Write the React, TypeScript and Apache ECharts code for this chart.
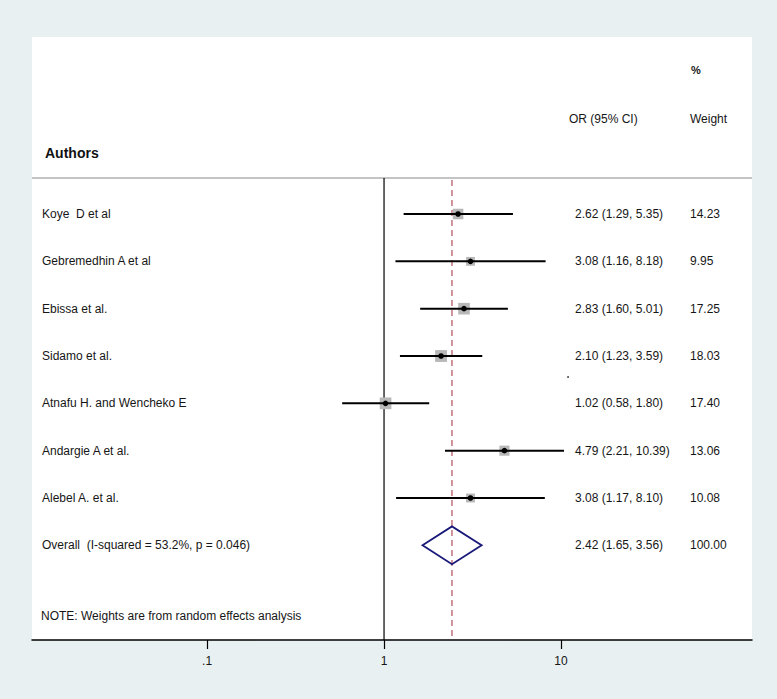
import React, { useEffect, useRef } from "react";
import * as echarts from "echarts";

const studyNames = [
  "Koye  D et al",
  "Gebremedhin A et al",
  "Ebissa et al.",
  "Sidamo et al.",
  "Atnafu H. and Wencheko E",
  "Andargie A et al.",
  "Alebel A. et al.",
];
const orValues = [2.62, 3.08, 2.83, 2.1, 1.02, 4.79, 3.08];
const ciLower = [1.29, 1.16, 1.6, 1.23, 0.58, 2.21, 1.17];
const ciUpper = [5.35, 8.18, 5.01, 3.59, 1.8, 10.39, 8.1];
const weights = [14.23, 9.95, 17.25, 18.03, 17.4, 13.06, 10.08];

const overallLabel = "Overall  (I-squared = 53.2%, p = 0.046)";
const overallOR = 2.42;
const overallLower = 1.65;
const overallUpper = 3.56;
const overallWeight = 100.0;

const xTicks = [0.1, 1, 10];
const xTickLabels = [".1", "1", "10"];

const headerAuthors = "Authors";
const headerOR = "OR (95% CI)";
const headerWeight = "Weight";
const headerPct = "%";
const noteText = "NOTE: Weights are from random effects analysis";

const fmt = (v: number) => v.toFixed(2);

export default function App() {
  const ref = useRef<HTMLDivElement>(null);
  useEffect(() => {
    if (!ref.current) return;
    const chart = echarts.init(ref.current, null, { renderer: "svg" });
    const lg = Math.log10;
    const textFont = "Liberation Sans, Arial, sans-serif";
    const textColor = "#161616";

    const rowNames = [...studyNames, overallLabel];
    const rowOR = [
      ...orValues.map((v, i) => `${fmt(v)} (${fmt(ciLower[i])}, ${fmt(ciUpper[i])})`),
      `${fmt(overallOR)} (${fmt(overallLower)}, ${fmt(overallUpper)})`,
    ];
    const rowW = [...weights.map(fmt), fmt(overallWeight)];

    const headerY = -0.76;
    const yMin = -3.74;
    const yMax = 9.0;

    const option: any = {
      animation: false,
      backgroundColor: "#e8f0f2",
      grid: {
        left: 32,
        right: 25,
        top: 37,
        bottom: 59,
        show: true,
        backgroundColor: "#ffffff",
        borderWidth: 0,
      },
      xAxis: {
        type: "value",
        min: -1.989,
        max: 2.079,
        position: "bottom",
        axisLine: { show: true, onZero: false, lineStyle: { color: "#000", width: 1.5 } },
        axisTick: {
          show: true,
          length: 9,
          customValues: xTicks.map((t) => lg(t)),
          lineStyle: { color: "#000", width: 1.2 },
        },
        axisLabel: {
          show: true,
          customValues: xTicks.map((t) => lg(t)),
          margin: 15,
          fontSize: 12,
          fontFamily: textFont,
          color: textColor,
          formatter: (v: number) => {
            let best = 0;
            xTicks.forEach((t, i) => {
              if (Math.abs(lg(t) - v) < Math.abs(lg(xTicks[best]) - v)) best = i;
            });
            return xTickLabels[best];
          },
        },
        splitLine: { show: false },
      },
      yAxis: {
        type: "value",
        inverse: true,
        min: yMin,
        max: yMax,
        show: false,
        splitLine: { show: false },
      },
      series: [
        {
          // header separator + reference lines
          type: "custom",
          silent: true,
          data: [[0, 0]],
          renderItem: (params: any, api: any) => {
            const cs = params.coordSys;
            const hy = api.coord([0, headerY])[1];
            const bottom = cs.y + cs.height;
            const x1 = api.coord([lg(1), 0])[0];
            const xo = api.coord([lg(overallOR), 0])[0];
            return {
              type: "group",
              children: [
                {
                  type: "line",
                  shape: { x1: cs.x, y1: hy, x2: cs.x + cs.width, y2: hy },
                  style: { stroke: "#c4c4c4", lineWidth: 2 },
                },
                {
                  type: "line",
                  shape: { x1: x1, y1: hy, x2: x1, y2: bottom },
                  style: { stroke: "#000", lineWidth: 1.2 },
                },
                {
                  type: "line",
                  shape: { x1: xo, y1: hy + 2, x2: xo, y2: bottom },
                  style: { stroke: "#b0505c", lineWidth: 1.2, lineDash: [6, 4] },
                },
              ],
            };
          },
        },
        {
          // studies
          type: "custom",
          silent: true,
          encode: { x: [0, 1, 2], y: 3 },
          data: orValues.map((v, i) => [lg(ciLower[i]), lg(ciUpper[i]), lg(v), i, weights[i]]),
          renderItem: (params: any, api: any) => {
            const lo = api.coord([api.value(0), api.value(3)]);
            const hi = api.coord([api.value(1), api.value(3)]);
            const c = api.coord([api.value(2), api.value(3)]);
            const s = 2.8 * Math.sqrt(api.value(4));
            return {
              type: "group",
              children: [
                {
                  type: "rect",
                  shape: { x: c[0] - s / 2, y: c[1] - s / 2, width: s, height: s },
                  style: { fill: "#b8b8b8" },
                },
                {
                  type: "line",
                  shape: { x1: lo[0], y1: lo[1], x2: hi[0], y2: hi[1] },
                  style: { stroke: "#000", lineWidth: 2 },
                },
                {
                  type: "circle",
                  shape: { cx: c[0], cy: c[1], r: 2.8 },
                  style: { fill: "#000" },
                },
              ],
            };
          },
        },
        {
          // overall diamond
          type: "custom",
          silent: true,
          encode: { x: [0, 1, 2], y: 3 },
          data: [[lg(overallLower), lg(overallUpper), lg(overallOR), studyNames.length]],
          renderItem: (params: any, api: any) => {
            const r = api.value(3);
            const pts = [
              api.coord([api.value(0), r]),
              api.coord([api.value(2), r - 0.4]),
              api.coord([api.value(1), r]),
              api.coord([api.value(2), r + 0.4]),
            ];
            return {
              type: "polygon",
              shape: { points: pts },
              style: { fill: "none", stroke: "#1a1a7a", lineWidth: 1.8 },
            };
          },
        },
        {
          // text columns
          type: "custom",
          silent: true,
          data: rowNames.map((_, i) => [0, i]),
          renderItem: (params: any, api: any) => {
            const cs = params.coordSys;
            const i = params.dataIndex;
            const y = api.coord([0, i])[1];
            const base = {
              fontSize: 12,
              fontFamily: textFont,
              fill: textColor,
              verticalAlign: "middle",
              align: "left",
            };
            return {
              type: "group",
              children: [
                { type: "text", x: cs.x + 10, y, style: { ...base, text: rowNames[i] } },
                { type: "text", x: cs.x + 543, y, style: { ...base, text: rowOR[i] } },
                { type: "text", x: cs.x + 658, y, style: { ...base, text: rowW[i] } },
              ],
            };
          },
        },
      ],
      graphic: [
        {
          type: "text",
          left: 45,
          top: 146,
          style: {
            text: headerAuthors,
            fontSize: 14,
            fontWeight: "bold",
            fontFamily: textFont,
            fill: "#111",
          },
        },
        {
          type: "text",
          left: 569,
          top: 113,
          style: { text: headerOR, fontSize: 12, fontFamily: textFont, fill: textColor },
        },
        {
          type: "text",
          left: 690,
          top: 113,
          style: { text: headerWeight, fontSize: 12, fontFamily: textFont, fill: textColor },
        },
        {
          type: "text",
          left: 691,
          top: 64,
          style: { text: headerPct, fontSize: 11, fontWeight: "bold", fontFamily: textFont, fill: textColor },
        },
        {
          type: "text",
          left: 41,
          top: 610,
          style: { text: noteText, fontSize: 12, fontFamily: textFont, fill: textColor },
        },
        {
          type: "circle",
          shape: { cx: 568, cy: 377, r: 0.9 },
          style: { fill: "#333" },
        },
      ],
    };
    chart.setOption(option);
    return () => chart.dispose();
  }, []);
  return (
    <div
      ref={ref}
      style={{ position: "fixed", left: 0, top: 0, width: 777, height: 699 }}
    />
  );
}
